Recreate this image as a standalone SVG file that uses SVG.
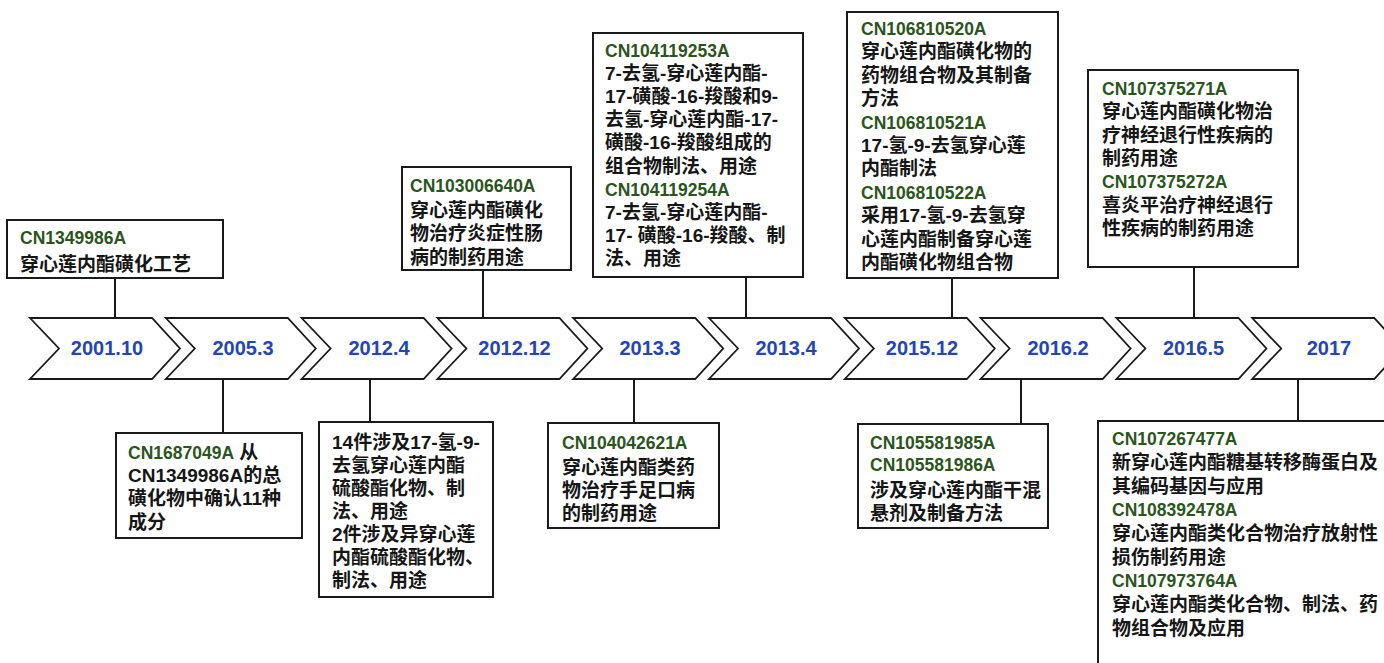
<svg xmlns="http://www.w3.org/2000/svg" width="1384" height="663" viewBox="0 0 1384 663">
<style>
.bg{fill:#ffffff}
.chev{fill:#ffffff;stroke:#1a1a1a;stroke-width:1.8;stroke-linejoin:miter}
.date{font-family:"Liberation Sans",Arial,sans-serif;font-weight:bold;font-size:20px;fill:#2346b4;text-anchor:middle}
.box{fill:#ffffff;stroke:#1a1a1a;stroke-width:2}
.id{font-family:"Liberation Sans",Arial,sans-serif;font-weight:bold;font-size:17.5px;fill:#2a561c}
.tx{font-family:"Liberation Sans","Noto Sans CJK SC",sans-serif;font-weight:bold;font-size:19px;fill:#161616}
.conn line{stroke:#1a1a1a;stroke-width:2}
</style>
<rect class="bg" x="0" y="0" width="1384" height="663"/>

<g id="connectors" class="conn">
<line x1="115" y1="278" x2="115" y2="318"/>
<line x1="223" y1="379" x2="223" y2="433"/>
<line x1="370" y1="379" x2="370" y2="422"/>
<line x1="483" y1="270" x2="483" y2="318"/>
<line x1="634" y1="379" x2="634" y2="423"/>
<line x1="746" y1="277" x2="746" y2="318"/>
<line x1="952" y1="278" x2="952" y2="318"/>
<line x1="1021" y1="379" x2="1021" y2="424"/>
<line x1="1194" y1="267" x2="1194" y2="318"/>
<line x1="1298" y1="379" x2="1298" y2="421"/>
</g>

<g id="t2001-10"><polygon class="chev" points="30,318 152,318 180,348.5 152,379 30,379 59,348.5"/><text class="date" x="107" y="355">2001.10</text></g>
<g id="t2005-3"><polygon class="chev" points="165.8,318 287.8,318 315.8,348.5 287.8,379 165.8,379 194.8,348.5"/><text class="date" x="243" y="355">2005.3</text></g>
<g id="t2012-4"><polygon class="chev" points="301.6,318 423.6,318 451.6,348.5 423.6,379 301.6,379 330.6,348.5"/><text class="date" x="379" y="355">2012.4</text></g>
<g id="t2012-12"><polygon class="chev" points="437.4,318 559.4,318 587.4,348.5 559.4,379 437.4,379 466.4,348.5"/><text class="date" x="514.5" y="355">2012.12</text></g>
<g id="t2013-3"><polygon class="chev" points="573.2,318 695.2,318 723.2,348.5 695.2,379 573.2,379 602.2,348.5"/><text class="date" x="650" y="355">2013.3</text></g>
<g id="t2013-4"><polygon class="chev" points="709,318 831,318 859,348.5 831,379 709,379 738,348.5"/><text class="date" x="786" y="355">2013.4</text></g>
<g id="t2015-12"><polygon class="chev" points="844.8,318 966.8,318 994.8,348.5 966.8,379 844.8,379 873.8,348.5"/><text class="date" x="922" y="355">2015.12</text></g>
<g id="t2016-2"><polygon class="chev" points="980.6,318 1102.6,318 1130.6,348.5 1102.6,379 980.6,379 1009.6,348.5"/><text class="date" x="1058" y="355">2016.2</text></g>
<g id="t2016-5"><polygon class="chev" points="1116.4,318 1238.4,318 1266.4,348.5 1238.4,379 1116.4,379 1145.4,348.5"/><text class="date" x="1193.5" y="355">2016.5</text></g>
<g id="t2017"><polygon class="chev" points="1252.2,318 1374.2,318 1402.2,348.5 1374.2,379 1252.2,379 1281.2,348.5"/><text class="date" x="1329" y="355">2017</text></g>

<g id="boxA">
<rect class="box" x="7" y="220" width="216" height="58"/>
<text class="id" x="20" y="244">CN1349986A</text>
<text class="tx" x="20" y="271">穿心莲内酯磺化工艺</text>
</g>

<g id="boxB">
<rect class="box" x="116" y="433" width="186" height="105"/>
<text class="tx" x="128" y="459"><tspan class="id">CN1687049A</tspan> 从</text>
<text class="tx" x="128" y="482">CN1349986A的总</text>
<text class="tx" x="128" y="505">磺化物中确认11种</text>
<text class="tx" x="128" y="529">成分</text>
</g>

<g id="boxC">
<rect class="box" x="319" y="422" width="174" height="175"/>
<text class="tx" x="332" y="449">14件涉及17-氢-9-</text>
<text class="tx" x="332" y="472">去氢穿心莲内酯</text>
<text class="tx" x="332" y="495">硫酸酯化物、制</text>
<text class="tx" x="332" y="518">法、用途</text>
<text class="tx" x="332" y="541">2件涉及异穿心莲</text>
<text class="tx" x="332" y="564">内酯硫酸酯化物、</text>
<text class="tx" x="332" y="587">制法、用途</text>
</g>

<g id="boxD">
<rect class="box" x="402" y="167" width="169" height="103"/>
<text class="id" x="410" y="192">CN103006640A</text>
<text class="tx" x="410" y="217">穿心莲内酯磺化</text>
<text class="tx" x="410" y="240">物治疗炎症性肠</text>
<text class="tx" x="410" y="264">病的制药用途</text>
</g>

<g id="boxE">
<rect class="box" x="548" y="423" width="171" height="105"/>
<text class="id" x="562" y="449">CN104042621A</text>
<text class="tx" x="562" y="474">穿心莲内酯类药</text>
<text class="tx" x="562" y="497">物治疗手足口病</text>
<text class="tx" x="562" y="520">的制药用途</text>
</g>

<g id="boxF">
<rect class="box" x="593" y="33" width="210" height="244"/>
<text class="id" x="605" y="57">CN104119253A</text>
<text class="tx" x="605" y="80.1">7-去氢-穿心莲内酯-</text>
<text class="tx" x="605" y="103.2">17-磺酸-16-羧酸和9-</text>
<text class="tx" x="605" y="126.3">去氢-穿心莲内酯-17-</text>
<text class="tx" x="605" y="149.4">磺酸-16-羧酸组成的</text>
<text class="tx" x="605" y="172.5">组合物制法、用途</text>
<text class="id" x="605" y="195.6">CN104119254A</text>
<text class="tx" x="605" y="218.7">7-去氢-穿心莲内酯-</text>
<text class="tx" x="605" y="241.8">17- 磺酸-16-羧酸、制</text>
<text class="tx" x="605" y="264.9">法、用途</text>
</g>

<g id="boxG">
<rect class="box" x="847" y="12" width="211" height="266"/>
<text class="id" x="861" y="35">CN106810520A</text>
<text class="tx" x="861" y="58.4">穿心莲内酯磺化物的</text>
<text class="tx" x="861" y="81.8">药物组合物及其制备</text>
<text class="tx" x="861" y="105.2">方法</text>
<text class="id" x="861" y="128.6">CN106810521A</text>
<text class="tx" x="861" y="152">17-氢-9-去氢穿心莲</text>
<text class="tx" x="861" y="175.4">内酯制法</text>
<text class="id" x="861" y="198.8">CN106810522A</text>
<text class="tx" x="861" y="222.2">采用17-氢-9-去氢穿</text>
<text class="tx" x="861" y="245.6">心莲内酯制备穿心莲</text>
<text class="tx" x="861" y="269">内酯磺化物组合物</text>
</g>

<g id="boxH">
<rect class="box" x="1088" y="70" width="210" height="197"/>
<text class="id" x="1102" y="95">CN107375271A</text>
<text class="tx" x="1102" y="118.3">穿心莲内酯磺化物治</text>
<text class="tx" x="1102" y="141.6">疗神经退行性疾病的</text>
<text class="tx" x="1102" y="164.9">制药用途</text>
<text class="id" x="1102" y="188.2">CN107375272A</text>
<text class="tx" x="1102" y="211.5">喜炎平治疗神经退行</text>
<text class="tx" x="1102" y="234.8">性疾病的制药用途</text>
</g>

<g id="boxI">
<rect class="box" x="858" y="424" width="190" height="104"/>
<text class="id" x="870" y="449">CN105581985A</text>
<text class="id" x="870" y="471">CN105581986A</text>
<text class="tx" x="870" y="497">涉及穿心莲内酯干混</text>
<text class="tx" x="870" y="520">悬剂及制备方法</text>
</g>

<g id="boxJ">
<rect class="box" x="1098" y="421" width="320" height="280"/>
<text class="id" x="1112" y="445">CN107267477A</text>
<text class="tx" x="1112" y="469">新穿心莲内酯糖基转移酶蛋白及</text>
<text class="tx" x="1112" y="492.5">其编码基因与应用</text>
<text class="id" x="1112" y="515.5">CN108392478A</text>
<text class="tx" x="1112" y="540">穿心莲内酯类化合物治疗放射性</text>
<text class="tx" x="1112" y="563.5">损伤制药用途</text>
<text class="id" x="1112" y="586.5">CN107973764A</text>
<text class="tx" x="1112" y="611">穿心莲内酯类化合物、制法、药</text>
<text class="tx" x="1112" y="634.5">物组合物及应用</text>
</g>
</svg>
